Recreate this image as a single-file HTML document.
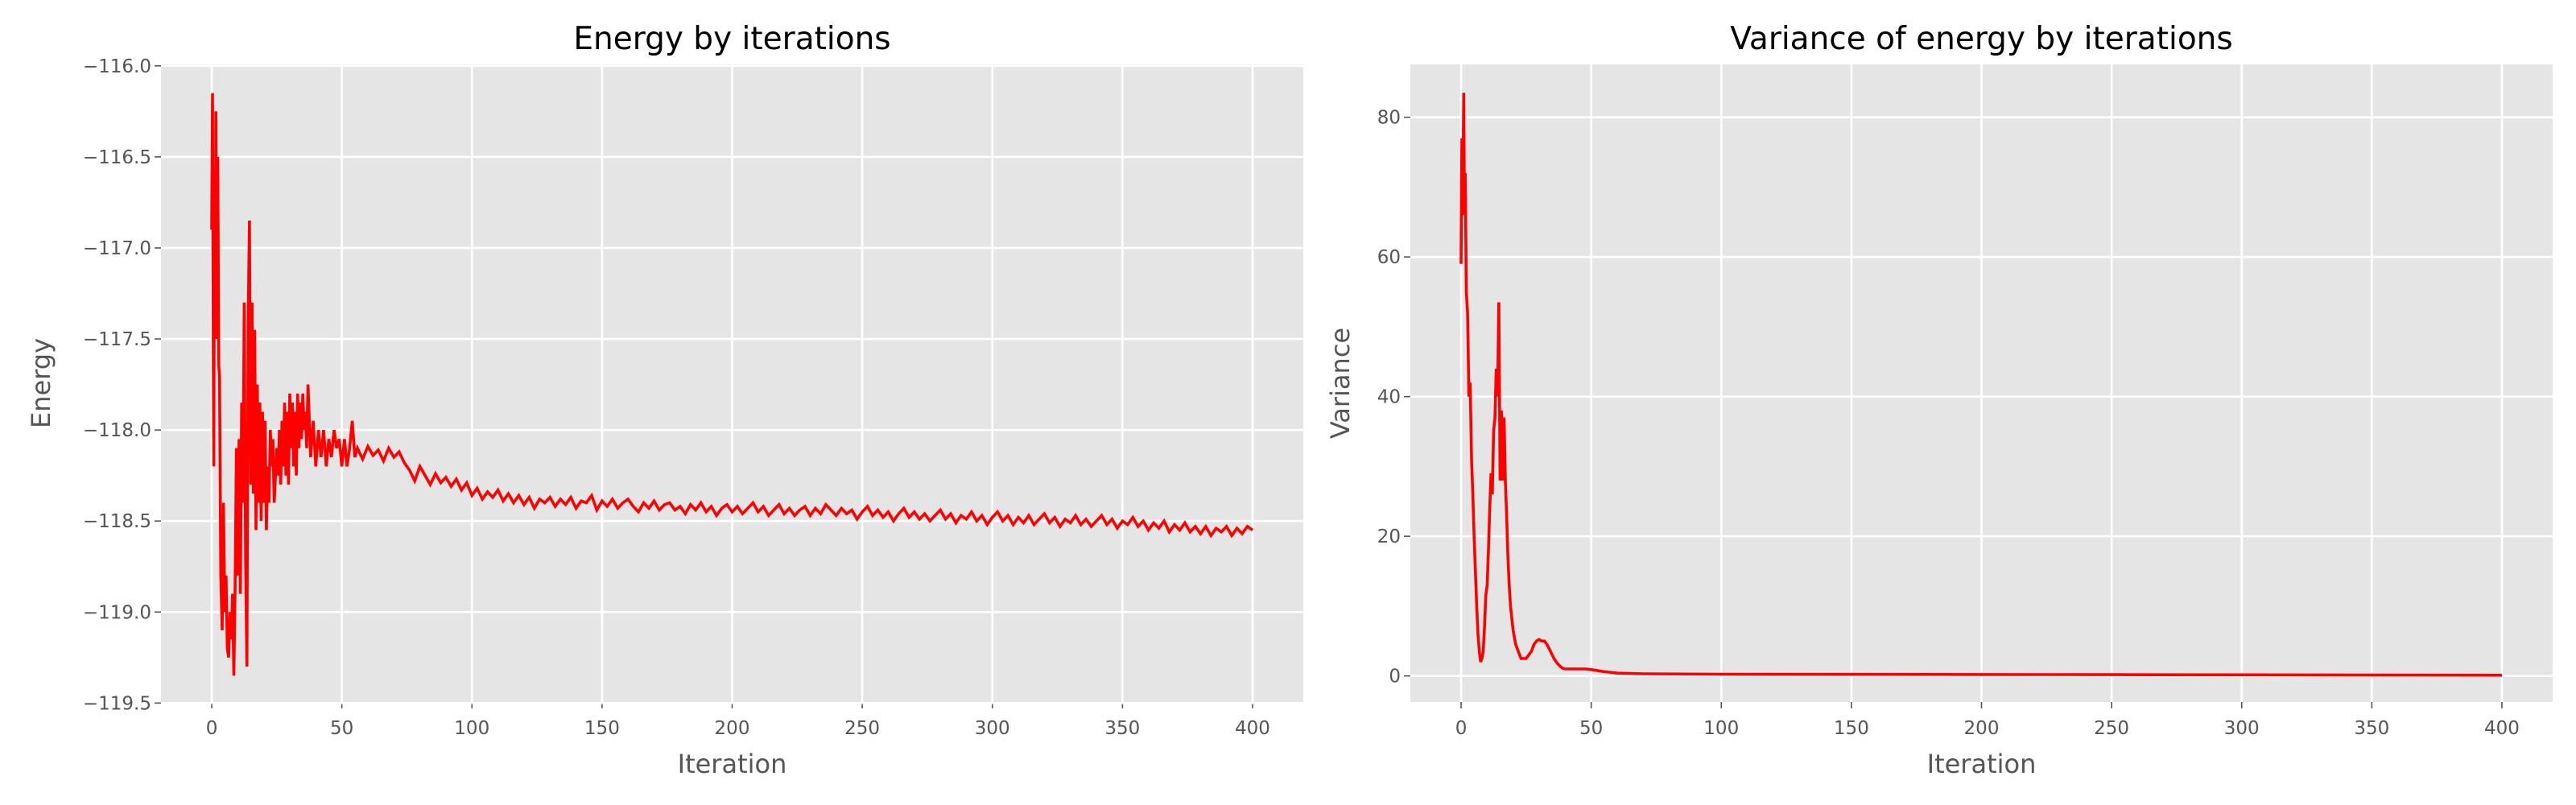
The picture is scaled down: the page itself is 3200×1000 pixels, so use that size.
<!DOCTYPE html>
<html><head><meta charset="utf-8"><style>
html,body{margin:0;padding:0;background:#fff;}
svg{display:block;font-family:"DejaVu Sans","Liberation Sans",sans-serif;}
</style></head><body>
<svg id="fig" width="3200" height="1000" viewBox="0 0 3200 1000" xmlns="http://www.w3.org/2000/svg"></svg>
<script>
// ---- Energy chart data ----
const energyX = [0,0.3,0.6,0.8,1,1.3,1.6,2,2.3,2.7,3,3.5,4,4.5,5,5.5,6,6.5,7,7.5,8,8.5,9,9.5,10,10.5,11,11.5,12,12.5,13,13.5,14,14.5,15,15.5,16,16.5,17,17.5,18,18.5,19,19.5,20,20.5,21,21.5,22,22.5,23,23.5,24,25,25.5,26,26.5,27,27.5,28,28.5,29,29.5,30,30.5,31,31.5,32,32.5,33,33.5,34,34.5,35,35.5,36,36.5,37,38,39,40,41,42,43,44,45,46,47,48,49,50,51,52,53,54,55];
const energyEarly = [-116.9,-116.15,-117.6,-118.2,-116.75,-117.5,-116.25,-117.5,-116.5,-117.65,-117.7,-118.8,-119.1,-118.4,-119.0,-118.8,-119.2,-119.25,-119.0,-119.15,-118.9,-119.35,-118.85,-118.1,-118.8,-118.05,-118.9,-117.85,-118.4,-117.3,-118.7,-119.3,-117.4,-116.85,-118.3,-117.3,-118.35,-117.45,-118.55,-117.75,-118.4,-117.85,-118.5,-117.9,-118.4,-117.95,-118.55,-118.2,-118.4,-118.0,-118.2,-118.05,-118.4,-118.1,-118.25,-118.0,-118.3,-117.95,-118.2,-117.85,-118.25,-117.9,-118.3,-117.8,-118.1,-117.85,-118.2,-117.9,-118.25,-117.8,-118.1,-117.85,-118.05,-117.8,-118.0,-117.9,-118.1,-117.75,-118.15,-117.95,-118.2,-118.0,-118.15,-118.0,-118.2,-118.05,-118.15,-118.0,-118.1,-118.05,-118.2,-118.05,-118.2,-118.1,-117.95,-118.15];
const energyLateStart = 56, energyLateStep = 2;
const energyLate = [-118.10,-118.16,-118.09,-118.14,-118.11,-118.17,-118.10,-118.15,-118.12,-118.18,
-118.22,-118.28,-118.20,-118.25,-118.30,-118.24,-118.29,-118.26,-118.31,-118.27,
-118.33,-118.29,-118.36,-118.32,-118.38,-118.34,-118.37,-118.33,-118.39,-118.35,
-118.40,-118.36,-118.41,-118.37,-118.43,-118.38,-118.40,-118.37,-118.42,-118.38,
-118.41,-118.37,-118.43,-118.39,-118.40,-118.36,-118.44,-118.39,-118.42,-118.38,
-118.43,-118.40,-118.38,-118.42,-118.45,-118.40,-118.43,-118.39,-118.44,-118.41,
-118.40,-118.44,-118.42,-118.46,-118.41,-118.44,-118.40,-118.45,-118.42,-118.47,
-118.43,-118.41,-118.45,-118.42,-118.46,-118.43,-118.40,-118.45,-118.42,-118.47,
-118.44,-118.41,-118.46,-118.43,-118.47,-118.44,-118.42,-118.47,-118.43,-118.46,
-118.41,-118.44,-118.47,-118.43,-118.46,-118.44,-118.49,-118.45,-118.42,-118.47,
-118.44,-118.48,-118.45,-118.50,-118.46,-118.43,-118.48,-118.45,-118.49,-118.46,
-118.50,-118.47,-118.44,-118.49,-118.46,-118.51,-118.47,-118.49,-118.45,-118.50,
-118.47,-118.52,-118.48,-118.45,-118.50,-118.47,-118.52,-118.48,-118.51,-118.47,
-118.52,-118.49,-118.46,-118.51,-118.48,-118.53,-118.49,-118.51,-118.47,-118.52,
-118.49,-118.53,-118.50,-118.47,-118.52,-118.49,-118.54,-118.50,-118.52,-118.48,
-118.53,-118.50,-118.55,-118.51,-118.54,-118.50,-118.56,-118.52,-118.55,-118.51,
-118.56,-118.53,-118.57,-118.53,-118.58,-118.54,-118.56,-118.53,-118.58,-118.54,
-118.57,-118.53,-118.55];
const energyYTicks = [-116.0,-116.5,-117.0,-117.5,-118.0,-118.5,-119.0,-119.5];
const xTicks = [0,50,100,150,200,250,300,350,400];
// ---- Variance chart data ----
const varX = [0,0.3,0.6,1,1.3,1.6,2,2.5,3,3.5,4,4.5,5,5.5,6,6.5,7,7.5,8,8.5,9,9.5,10,10.5,11,11.5,12,12.5,13,13.5,14,14.5,15,15.5,16,16.5,17,17.5,18,18.5,19,20,21,22,23,24,25,26,27,28,29,30,31,32,33,34,35,36,37,38,39,40,45,48,50,55,60,70,100,150,200,250,300,350,400];
const varY = [59,77,66,83.5,66,72,55,52,40,42,31,26,20,15,10,6,3.5,2,2.5,3.5,7,11.5,13,18,24,29,26,35,37,44,40,53.5,28,38,28,37,28,23,17,13,10,6.5,4.5,3.5,2.5,2.5,2.5,3,3.5,4.5,5,5.2,5,5,4.5,3.8,3,2.3,1.8,1.4,1.1,1.0,1.0,1.0,0.9,0.6,0.4,0.3,0.25,0.22,0.2,0.18,0.15,0.12,0.1];
const varYTicks = [0,20,40,60,80];

const NS = "http://www.w3.org/2000/svg";
const svg = document.getElementById('fig');
function mk(tag, attrs, parent){ const e=document.createElementNS(NS,tag); for(const k in attrs) e.setAttribute(k,attrs[k]); (parent||svg).appendChild(e); return e; }

function drawPanel(p){
  const g = mk('g',{});
  
  
  const sx = v => p.l + (v - p.xmin)/(p.xmax - p.xmin)*(p.r - p.l);
  const sy = v => p.b - (v - p.ymin)/(p.ymax - p.ymin)*(p.b - p.t);
  const bg = mk('rect',{x:p.l,y:p.t,width:p.r-p.l,height:p.b-p.t,fill:'#e5e5e5'},g);
  
  
  p.xt.forEach(v=>{
    const x=sx(v);
    const gl = mk('line',{x1:x,x2:x,y1:p.t,y2:p.b,stroke:'#fff','stroke-width':2.6},g);
    
    
    mk('line',{x1:x,x2:x,y1:p.b,y2:p.b+8,stroke:'#555','stroke-width':1.6},g);
    const t = mk('text',{x:x,y:p.b+40,'text-anchor':'middle','font-size':23,fill:'#555'},g);
    t.textContent = v;
    
    
  });
  p.yt.forEach(v=>{
    const y=sy(v);
    const gl = mk('line',{x1:p.l,x2:p.r,y1:y,y2:y,stroke:'#fff','stroke-width':2.6},g);
    
    
    mk('line',{x1:p.l-8,x2:p.l,y1:y,y2:y,stroke:'#555','stroke-width':1.6},g);
    const t = mk('text',{x:p.l-12,y:y+8,'text-anchor':'end','font-size':23,fill:'#555'},g);
    t.textContent = p.fmt(v);
    
    
  });
  const pts = p.xs.map((x,i)=>sx(x).toFixed(1)+','+sy(p.ys[i]).toFixed(1)).join(' ');
  const line = mk('polyline',{points:pts,fill:'none',stroke:'#ff0000','stroke-width':3.6,'stroke-linejoin':'miter'},g);
  
  
  const title = mk('text',{x:(p.l+p.r)/2,y:61,'text-anchor':'middle','font-size':39,fill:'#000'},g);
  title.textContent = p.title;
  
  
  const xl = mk('text',{x:(p.l+p.r)/2,y:960,'text-anchor':'middle','font-size':32,fill:'#555'},g);
  xl.textContent = 'Iteration';
  
  
  const yc=(p.t+p.b)/2;
  const yl = mk('text',{x:p.ylx,y:yc,'text-anchor':'middle','font-size':32,fill:'#555',transform:'rotate(-90 '+p.ylx+' '+yc+')'},g);
  yl.textContent = p.ylabel;
  
  
}

const eX = energyX.concat(energyLate.map((_,i)=>energyLateStart+i*energyLateStep));
const eY = energyEarly.concat(energyLate);
const fmt1 = v => (v<0?'\u2212':'')+Math.abs(v).toFixed(1);

drawPanel({name:'energy-chart',series:'energy-line',title:'Energy by iterations',ylabel:'Energy',
  l:200,r:1619,t:80,b:872,xmin:-19.5,xmax:419.5,ymin:-119.494,ymax:-115.992,
  xt:xTicks,yt:energyYTicks,fmt:fmt1,xs:eX,ys:eY,ylx:62});
drawPanel({name:'variance-chart',series:'variance-line',title:'Variance of energy by iterations',ylabel:'Variance',
  l:1752,r:3171,t:80,b:872,xmin:-19.5,xmax:419.5,ymin:-3.73,ymax:87.57,
  xt:xTicks,yt:varYTicks,fmt:v=>String(v),xs:varX,ys:varY,ylx:1676});
</script>
</body></html>
